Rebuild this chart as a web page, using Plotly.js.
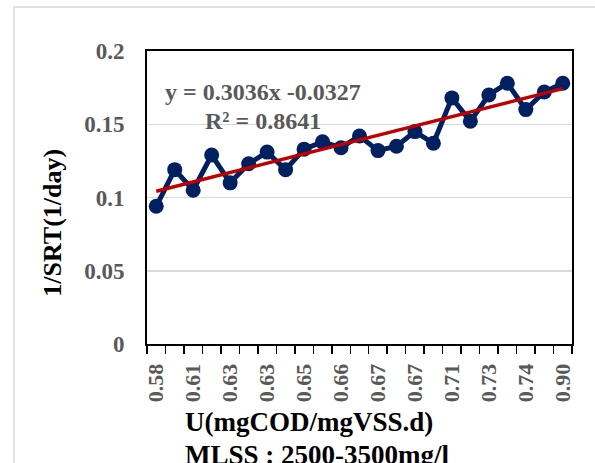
<!DOCTYPE html>
<html>
<head>
<meta charset="utf-8">
<script src="https://cdn.plot.ly/plotly-3.0.1.min.js"></script>
<style>
  html, body { margin: 0; padding: 0; background: #fff; }
  #grafico { width: 595px; height: 463px; }
</style>
</head>
<body>
<div id="grafico"></div>
<script>
// valores de U (mgCOD/mgVSS.d) - rotulos do eixo x
let valoresU = ['0.58', '0.60', '0.61', '0.62', '0.63', '0.63', '0.63', '0.64', '0.65', '0.65', '0.66', '0.66',
                '0.67', '0.67', '0.67', '0.69', '0.71', '0.72', '0.73', '0.73', '0.74', '0.76', '0.90'];
// 1/SRT (1/day)
let valoresSRT = [0.094, 0.119, 0.105, 0.129, 0.110, 0.123, 0.131, 0.119, 0.133, 0.138, 0.134, 0.142,
                  0.132, 0.135, 0.145, 0.137, 0.168, 0.152, 0.170, 0.178, 0.160, 0.172, 0.178];
let textoEquacao = 'y = 0.3036x -0.0327';
let textoR2 = 'R² = 0.8641';

// posicoes das categorias
let indices = valoresU.map((v, i) => i);
// so mostra um rotulo sim outro nao
let ticksMostrados = indices.filter(i => i % 2 == 0);
let rotulosMostrados = ticksMostrados.map(i => valoresU[i]);

// linha de tendencia (minimos quadrados sobre as categorias)
let n = indices.length;
let mx = indices.reduce((a, b) => a + b, 0) / n;
let my = valoresSRT.reduce((a, b) => a + b, 0) / n;
let sxy = 0, sxx = 0;
for (let i = 0; i < n; i++) {
  sxy += (indices[i] - mx) * (valoresSRT[i] - my);
  sxx += (indices[i] - mx) * (indices[i] - mx);
}
let inclinacao = sxy / sxx;
let intercepto = my - inclinacao * mx;
let tendencia = indices.map(i => intercepto + inclinacao * i);

let fonte = 'Liberation Serif, Times New Roman, serif';

var trace1 = {
  x: indices,
  y: valoresSRT,
  type: 'scatter',
  mode: 'lines+markers',
  line: { color: '#002060', width: 5 },
  marker: { color: '#002060', size: 15 },
  hoverinfo: 'none'
};

var trace2 = {
  x: indices,
  y: tendencia,
  type: 'scatter',
  mode: 'lines',
  line: { color: '#C00000', width: 3.5 },
  hoverinfo: 'none'
};

var layout = {
  width: 595,
  height: 463,
  showlegend: false,
  paper_bgcolor: '#ffffff',
  plot_bgcolor: '#ffffff',
  margin: { l: 147, r: 23, t: 51, b: 119 },
  font: { family: fonte },
  xaxis: {
    range: [-0.5, 22.5],
    tickmode: 'array',
    tickvals: ticksMostrados,
    ticktext: rotulosMostrados,
    tickangle: -90,
    ticks: '',
    ticklabelstandoff: 9,
    tickfont: { family: fonte, size: 22, color: '#595959', weight: 'bold' },
    showgrid: false,
    zeroline: false,
    showline: true,
    linecolor: '#000000',
    linewidth: 2,
    mirror: true,
    minor: { tick0: -0.5, dtick: 1, ticks: 'outside', ticklen: 8, tickwidth: 1.5, tickcolor: '#000000', showgrid: false }
  },
  yaxis: {
    range: [0, 0.2],
    tickvals: [0, 0.05, 0.1, 0.15, 0.2],
    ticktext: ['0', '0.05', '0.1', '0.15', '0.2'],
    ticks: '',
    ticklabelstandoff: 16,
    tickfont: { family: fonte, size: 23, color: '#595959', weight: 'bold' },
    showgrid: true,
    gridcolor: '#d9d9d9',
    gridwidth: 1.5,
    zeroline: false,
    showline: true,
    linecolor: '#000000',
    linewidth: 2,
    mirror: true
  },
  shapes: [
    // moldura cinza do grafico
    { type: 'rect', xref: 'paper', yref: 'paper', x0: -0.313, x1: 1.2, y0: -0.6, y1: 1.15,
      line: { color: '#d9d9d9', width: 1.5 }, fillcolor: 'rgba(0,0,0,0)', layer: 'below' }
  ],
  annotations: [
    { xref: 'paper', yref: 'paper', x: -0.223, y: 0.5 - 25 / 293, text: '1/SRT(1/day)', textangle: -90,
      showarrow: false, xanchor: 'center', yanchor: 'middle',
      font: { family: fonte, size: 26, color: '#000000', weight: 'bold' } },
    { xref: 'paper', yref: 'paper', x: (183 - 147) / 425, y: (344 - 422) / 293, text: 'U(mgCOD/mgVSS.d)',
      showarrow: false, xanchor: 'left', yanchor: 'middle',
      font: { family: fonte, size: 27, color: '#000000', weight: 'bold' } },
    { xref: 'paper', yref: 'paper', x: (183 - 147) / 425, y: (344 - 455) / 293, text: 'MLSS : 2500-3500mg/l',
      showarrow: false, xanchor: 'left', yanchor: 'middle',
      font: { family: fonte, size: 27, color: '#000000', weight: 'bold' } },
    { xref: 'paper', yref: 'paper', x: (163 - 147) / 425, y: (344 - 92) / 293, text: textoEquacao,
      showarrow: false, xanchor: 'left', yanchor: 'middle',
      font: { family: fonte, size: 24, color: '#595959', weight: 'bold' } },
    { xref: 'paper', yref: 'paper', x: (203 - 147) / 425, y: (344 - 121) / 293, text: textoR2,
      showarrow: false, xanchor: 'left', yanchor: 'middle',
      font: { family: fonte, size: 24, color: '#595959', weight: 'bold' } }
  ]
};

Plotly.newPlot('grafico', [trace1, trace2], layout, { staticPlot: true, displayModeBar: false });
</script>
</body>
</html>
